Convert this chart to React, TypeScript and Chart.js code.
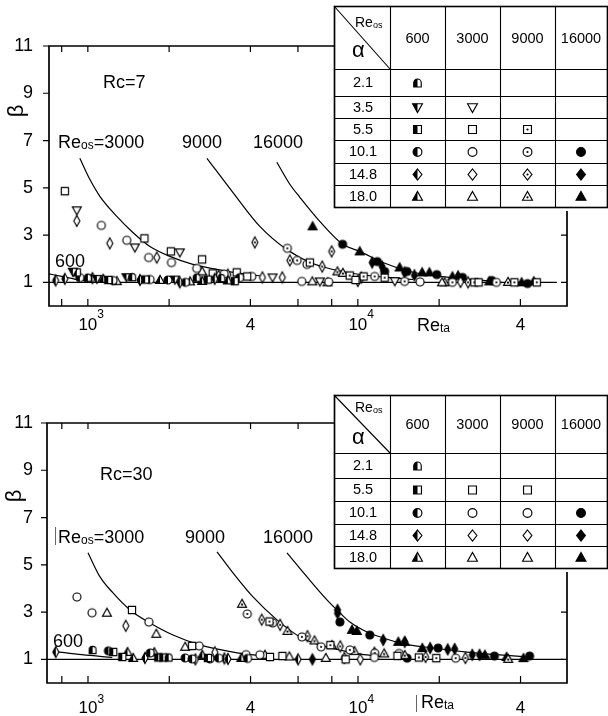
import { useEffect, useRef } from 'react';
import { Chart, registerables } from 'chart.js';

Chart.register(...registerables);

type Pt = [number, number];
type Kind = 'circle' | 'square' | 'diamond' | 'tri' | 'invtri' | 'dee';
type Fill = 'open' | 'half' | 'dot' | 'solid';

// Axis ticks
const xTickValues = [800, 1000, 2000, 4000, 6000, 8000, 10000, 20000, 40000];
const xTopTickValues = [800, 1000, 2000, 4000, 6000];
const xTickLabels: Record<number, string> = { 1000: '10', 4000: '4', 10000: '10', 40000: '4' };
const xTickExponents: [number, string][] = [[1000, '3'], [10000, '4']];
const yTickValues = [1, 3, 5, 7, 9, 11];
const reOsColumns = ['600', '3000', '9000', '16000'];
const rc7Alphas = ['2.1', '3.5', '5.5', '10.1', '14.8', '18.0'];
const rc30Alphas = ['2.1', '5.5', '10.1', '14.8', '18.0'];

// ---------- Rc = 7 : measured (Re_ta, beta) ----------
const rc7_600_a21: Pt[] = [[1000, 1.2], [1460, 1.22], [2530, 1.2], [3120, 1.18]];
const rc7_600_a35: Pt[] = [[880, 1.45], [1080, 1.15], [1390, 1.22], [2100, 1.12]];
const rc7_600_a55: Pt[] = [[910, 1.42], [1190, 1.1], [1630, 1.12], [2780, 1.12], [3500, 1.05]];
const rc7_600_a101: Pt[] = [[934, 1.2], [1240, 1.08], [1700, 1.12], [1980, 1.1], [2300, 1.0], [3650, 1.2]];
const rc7_600_a148: Pt[] = [[760, 1.08], [822, 1.15], [1040, 1.18], [1560, 1.1], [2190, 1.0], [2950, 1.15]];
const rc7_600_a180: Pt[] = [[1140, 1.15], [1280, 1.05], [1850, 1.1], [2390, 1.04], [2650, 1.06], [3300, 1.08]];

const rc7_3000_a35: Pt[] = [[910, 4.05], [1493, 2.48], [2190, 2.27], [4830, 1.21], [7230, 1.04], [13700, 1.05]];
const rc7_3000_a55: Pt[] = [[822, 4.86], [1620, 2.86], [2030, 2.31], [2650, 1.97], [2900, 1.38], [3560, 1.42], [3890, 1.25], [9800, 1.1], [28000, 1.0]];
const rc7_3000_a101: Pt[] = [[1122, 3.41], [1394, 2.78], [1680, 2.05], [2040, 1.84], [2530, 1.59], [3200, 1.35], [4050, 1.25], [6200, 1.04], [7800, 1.02], [17000, 1.02]];
const rc7_3000_a148: Pt[] = [[910, 3.6], [1206, 2.65], [1800, 2.05], [3300, 1.33], [4430, 1.21], [5250, 1.21], [10000, 1.06], [24000, 1.02]];
const rc7_3000_a180: Pt[] = [[2650, 1.46], [3050, 1.32], [6780, 1.04], [7720, 1.0], [20500, 1.0]];

const rc7_9000_a55: Pt[] = [[6640, 1.84], [9330, 1.29], [10500, 1.25], [12570, 1.2], [27000, 1.0], [38000, 1.0], [46000, 1.0]];
const rc7_9000_a101: Pt[] = [[5480, 2.44], [5960, 1.93], [6480, 1.76], [11540, 1.25], [14900, 1.04], [22400, 1.0], [32600, 1.0]];
const rc7_9000_a148: Pt[] = [[4155, 2.69], [5600, 1.93], [7380, 1.67], [8000, 2.31], [10300, 1.2], [25600, 1.0]];
const rc7_9000_a180: Pt[] = [[8400, 1.46], [8800, 1.4], [20950, 1.0], [36000, 1.02]];

const rc7_16000_a101: Pt[] = [[8780, 2.61], [11800, 1.88], [12570, 1.46], [15200, 1.46], [19600, 1.33], [24400, 1.21], [31300, 1.08], [42500, 0.95]];
const rc7_16000_a148: Pt[] = [[11300, 1.84], [12300, 1.67], [14900, 1.42], [16200, 1.3]];
const rc7_16000_a180: Pt[] = [[6800, 3.37], [10160, 2.31], [14280, 1.63], [17300, 1.42], [18400, 1.42], [22400, 1.25], [23500, 1.29], [30700, 1.04], [40400, 1.0], [44800, 1.04]];

// fitted curves, Rc = 7
const rc7_fit600: Pt[] = [[718, 1.36], [800, 1.25], [900, 1.13], [1000, 1.05]];
const rc7_fit3000: Pt[] = [[934, 6.25], [1017, 5.36], [1108, 4.64], [1280, 3.79], [1468, 3.11], [1698, 2.52], [2014, 2.1], [2449, 1.76], [3006, 1.55], [3654, 1.38], [4335, 1.28]];
const rc7_fit9000: Pt[] = [[2761, 6.25], [3443, 4.81], [4335, 3.37], [5457, 2.39], [6808, 1.8], [8870, 1.45], [11070, 1.28], [14000, 1.18], [16000, 1.12]];
const rc7_fit16000: Pt[] = [[5012, 6.08], [5598, 5.15], [6095, 4.6], [7227, 3.58], [8790, 2.61], [10160, 2.31], [12380, 1.84], [15590, 1.46], [20140, 1.25], [26680, 1.12], [33570, 1.04]];
const rc7_unity: Pt[] = [[718, 1], [54600, 1]];

// ---------- Rc = 30 : measured (Re_ta, beta) ----------
const rc30_600_a21: Pt[] = [[1040, 1.4], [1990, 1.08]];
const rc30_600_a55: Pt[] = [[1240, 1.31], [1340, 1.1], [1820, 1.08], [1900, 1.08], [2780, 1.06]];
const rc30_600_a101: Pt[] = [[1190, 1.36], [1700, 1.27], [2290, 1.06], [2430, 1.02], [2830, 1.02], [3050, 1.05], [3900, 1.04]];
const rc30_600_a148: Pt[] = [[760, 1.31], [1626, 1.06], [2500, 1.0], [3200, 1.04], [3300, 1.02], [6000, 1.0]];
const rc30_600_a180: Pt[] = [[1400, 1.31], [1470, 1.06], [1760, 1.3], [2650, 1.19], [3700, 1.06]];

const rc30_3000_a55: Pt[] = [[1455, 3.09], [2430, 1.57], [4720, 1.1], [5250, 1.14], [9000, 1.0], [14000, 1.15]];
const rc30_3000_a101: Pt[] = [[910, 3.64], [1035, 2.97], [1680, 2.58], [2580, 1.57], [3850, 1.2], [4330, 1.19], [11500, 1.08]];
const rc30_3000_a148: Pt[] = [[1380, 2.42], [2950, 1.3], [8900, 1.06], [10200, 1.0]];
const rc30_3000_a180: Pt[] = [[1175, 2.97], [1790, 2.08], [2290, 1.53], [4520, 1.19], [5570, 1.12], [7600, 1.06]];

const rc30_9000_a55: Pt[] = [[4700, 2.6], [7900, 1.6], [16800, 1.08], [19500, 1.05]];
const rc30_9000_a101: Pt[] = [[3890, 2.92], [4830, 2.54], [6200, 1.95], [7300, 1.53], [9330, 1.4], [11540, 1.26], [14200, 1.25], [23000, 1.05]];
const rc30_9000_a148: Pt[] = [[4400, 2.68], [5150, 2.46], [6500, 1.98], [8600, 1.55], [11500, 1.28], [17800, 1.1], [25000, 1.06]];
const rc30_9000_a180: Pt[] = [[3720, 3.35], [5480, 2.2], [6900, 1.8], [8000, 1.6], [9700, 1.35], [12500, 1.25], [14900, 1.18], [36000, 1.02]];

const rc30_16000_a101: Pt[] = [[8570, 2.58], [11060, 2.03], [15200, 1.05], [19800, 1.48], [32000, 1.14], [43200, 1.14]];
const rc30_16000_a148: Pt[] = [[6780, 1.0], [8400, 3.09], [8400, 2.95], [12400, 1.82], [14900, 1.74], [18500, 1.48], [21500, 1.42], [22800, 1.44], [26500, 1.19], [28200, 1.19]];
const rc30_16000_a180: Pt[] = [[9500, 2.25], [9900, 2.2], [14100, 1.74], [14900, 1.74], [17300, 1.48], [29500, 1.19], [35500, 1.1], [41000, 1.05]];

// fitted curves, Rc = 30
const rc30_fit600: Pt[] = [[760, 1.33], [950, 1.2], [1230, 1.08]];
const rc30_fit3000: Pt[] = [[1000, 5.51], [1108, 4.49], [1238, 3.81], [1431, 3.09], [1697, 2.54], [2065, 2.03], [2597, 1.61], [3446, 1.31], [4600, 1.12]];
const rc30_fit9000: Pt[] = [[3006, 5.55], [3443, 4.66], [4085, 3.64], [5012, 2.67], [6095, 1.95], [7228, 1.61], [8570, 1.4], [10250, 1.22], [12380, 1.12]];
const rc30_fit16000: Pt[] = [[5457, 5.51], [6475, 4.49], [7674, 3.52], [8570, 2.97], [9330, 2.58], [10790, 2.16], [12380, 1.91], [14320, 1.69], [18970, 1.48], [25330, 1.31], [33570, 1.19], [43350, 1.1]];
const rc30_unity: Pt[] = [[705, 1], [57500, 1]];

type Sym = [Kind, Fill] | null;

interface Series { data: Pt[]; sym: [Kind, Fill]; }

const rc7Series: Series[] = [
  { data: rc7_600_a21, sym: ['dee', 'half'] },
  { data: rc7_600_a35, sym: ['invtri', 'half'] },
  { data: rc7_600_a55, sym: ['square', 'half'] },
  { data: rc7_600_a101, sym: ['circle', 'half'] },
  { data: rc7_600_a148, sym: ['diamond', 'half'] },
  { data: rc7_600_a180, sym: ['tri', 'half'] },
  { data: rc7_3000_a35, sym: ['invtri', 'open'] },
  { data: rc7_3000_a55, sym: ['square', 'open'] },
  { data: rc7_3000_a101, sym: ['circle', 'open'] },
  { data: rc7_3000_a148, sym: ['diamond', 'open'] },
  { data: rc7_3000_a180, sym: ['tri', 'open'] },
  { data: rc7_9000_a55, sym: ['square', 'dot'] },
  { data: rc7_9000_a101, sym: ['circle', 'dot'] },
  { data: rc7_9000_a148, sym: ['diamond', 'dot'] },
  { data: rc7_9000_a180, sym: ['tri', 'dot'] },
  { data: rc7_16000_a101, sym: ['circle', 'solid'] },
  { data: rc7_16000_a148, sym: ['diamond', 'solid'] },
  { data: rc7_16000_a180, sym: ['tri', 'solid'] },
];

const rc30Series: Series[] = [
  { data: rc30_600_a21, sym: ['dee', 'half'] },
  { data: rc30_600_a55, sym: ['square', 'half'] },
  { data: rc30_600_a101, sym: ['circle', 'half'] },
  { data: rc30_600_a148, sym: ['diamond', 'half'] },
  { data: rc30_600_a180, sym: ['tri', 'half'] },
  { data: rc30_3000_a55, sym: ['square', 'open'] },
  { data: rc30_3000_a101, sym: ['circle', 'open'] },
  { data: rc30_3000_a148, sym: ['diamond', 'open'] },
  { data: rc30_3000_a180, sym: ['tri', 'open'] },
  { data: rc30_9000_a55, sym: ['square', 'dot'] },
  { data: rc30_9000_a101, sym: ['circle', 'dot'] },
  { data: rc30_9000_a148, sym: ['diamond', 'dot'] },
  { data: rc30_9000_a180, sym: ['tri', 'dot'] },
  { data: rc30_16000_a101, sym: ['circle', 'solid'] },
  { data: rc30_16000_a148, sym: ['diamond', 'solid'] },
  { data: rc30_16000_a180, sym: ['tri', 'solid'] },
];

// symbol key tables (rows = alpha, columns = Re_os)
const rc7Key: Sym[][] = [
  [['dee', 'half'], null, null, null],
  [['invtri', 'half'], ['invtri', 'open'], null, null],
  [['square', 'half'], ['square', 'open'], ['square', 'dot'], null],
  [['circle', 'half'], ['circle', 'open'], ['circle', 'dot'], ['circle', 'solid']],
  [['diamond', 'half'], ['diamond', 'open'], ['diamond', 'dot'], ['diamond', 'solid']],
  [['tri', 'half'], ['tri', 'open'], ['tri', 'dot'], ['tri', 'solid']],
];
const rc30Key: Sym[][] = [
  [['dee', 'half'], null, null, null],
  [['square', 'half'], ['square', 'open'], ['square', 'open'], null],
  [['circle', 'half'], ['circle', 'open'], ['circle', 'open'], ['circle', 'solid']],
  [['diamond', 'half'], ['diamond', 'open'], ['diamond', 'open'], ['diamond', 'solid']],
  [['tri', 'half'], ['tri', 'open'], ['tri', 'open'], ['tri', 'solid']],
];

const FONT = '"Liberation Sans", Arial, Helvetica, sans-serif';

function shapePath(g: CanvasRenderingContext2D, kind: Kind, cx: number, cy: number, s: number, wide: boolean) {
  g.beginPath();
  switch (kind) {
    case 'circle':
      g.arc(cx, cy, s, 0, Math.PI * 2);
      break;
    case 'square':
      g.rect(cx - s * 0.9, cy - s * 0.9, s * 1.8, s * 1.8);
      break;
    case 'diamond': {
      const hw = wide ? s * 1.0 : s * 0.75;
      const hh = wide ? s * 1.25 : s * 1.38;
      g.moveTo(cx, cy - hh);
      g.lineTo(cx + hw, cy);
      g.lineTo(cx, cy + hh);
      g.lineTo(cx - hw, cy);
      g.closePath();
      break;
    }
    case 'tri':
      g.moveTo(cx, cy - s * 1.15);
      g.lineTo(cx + s * 1.12, cy + s * 0.85);
      g.lineTo(cx - s * 1.12, cy + s * 0.85);
      g.closePath();
      break;
    case 'invtri':
      g.moveTo(cx, cy + s * 1.15);
      g.lineTo(cx + s * 1.12, cy - s * 0.85);
      g.lineTo(cx - s * 1.12, cy - s * 0.85);
      g.closePath();
      break;
    case 'dee':
      g.moveTo(cx - s * 0.85, cy + s * 0.9);
      g.lineTo(cx - s * 0.85, cy - s * 0.05);
      g.arc(cx, cy - s * 0.05, s * 0.85, Math.PI, 0);
      g.lineTo(cx + s * 0.85, cy + s * 0.9);
      g.closePath();
      break;
  }
}

function drawSymbol(g: CanvasRenderingContext2D, kind: Kind, fill: Fill, cx: number, cy: number, s: number, wide = false) {
  g.save();
  shapePath(g, kind, cx, cy, s, wide);
  g.fillStyle = fill === 'solid' ? '#000' : '#fff';
  g.fill();
  if (fill === 'half') {
    g.save();
    g.beginPath();
    g.rect(cx - s * 2, cy - s * 2, s * 2, s * 4);
    g.clip();
    shapePath(g, kind, cx, cy, s, wide);
    g.fillStyle = '#000';
    g.fill();
    g.restore();
  }
  shapePath(g, kind, cx, cy, s, wide);
  g.strokeStyle = '#000';
  g.lineWidth = 1.15;
  g.stroke();
  if (fill === 'dot') {
    const dy = kind === 'tri' ? s * 0.18 : kind === 'invtri' ? -s * 0.18 : 0;
    g.beginPath();
    g.arc(cx, cy + dy, 1.1, 0, Math.PI * 2);
    g.fillStyle = '#000';
    g.fill();
  }
  g.restore();
}

function symbolCanvas(kind: Kind, fill: Fill, s: number): HTMLCanvasElement {
  const size = Math.ceil(s * 3.2) + 5;
  const c = document.createElement('canvas');
  c.width = size;
  c.height = size;
  const g = c.getContext('2d')!;
  drawSymbol(g, kind, fill, size / 2, size / 2, s);
  return c;
}

interface KeyTable {
  cols: number[];
  rows: number[];
  alphas: string[];
  cells: Sym[][];
  reAt: Pt;
  alphaAt: Pt;
}

interface Panel {
  series: Series[];
  curves: Pt[][];
  xMin: number;
  padLeft: number;
  padTop: number;
  xAxisHeight: number;
  xLabelPad: number;
  expBaseline: number;
  yLabelPad: number;
  rc: string;
  rcAt: Pt;
  reOsAt: Pt;
  n9000At: Pt;
  n16000At: Pt;
  n600At: Pt;
  retaAt: Pt;
  betaAt: Pt;
  bars: [number, number, number][];
  table: KeyTable;
  rightTicks: number[];
}

const rc7Panel: Panel = {
  series: rc7Series,
  curves: [rc7_fit600, rc7_fit3000, rc7_fit9000, rc7_fit16000, rc7_unity],
  xMin: 718,
  padLeft: 9,
  padTop: 46,
  xAxisHeight: 52,
  xLabelPad: 1,
  expBaseline: 12,
  yLabelPad: 8,
  rc: 'Rc=7',
  rcAt: [103, 88],
  reOsAt: [58, 148],
  n9000At: [182, 148],
  n16000At: [253, 148],
  n600At: [55, 267],
  retaAt: [417, 331],
  betaAt: [17, 111],
  bars: [],
  table: {
    cols: [334, 390, 445, 500, 555, 607],
    rows: [6, 69, 96, 118, 140, 163, 185, 207],
    alphas: rc7Alphas,
    cells: rc7Key,
    reAt: [355, 27],
    alphaAt: [352, 51],
  },
  rightTicks: [1, 3],
};

const rc30Panel: Panel = {
  series: rc30Series,
  curves: [rc30_fit600, rc30_fit3000, rc30_fit9000, rc30_fit16000, rc30_unity],
  xMin: 705,
  padLeft: 7,
  padTop: 65,
  xAxisHeight: 33,
  xLabelPad: 7,
  expBaseline: 20,
  yLabelPad: 6,
  rc: 'Rc=30',
  rcAt: [100, 122],
  reOsAt: [58, 185],
  n9000At: [185, 185],
  n16000At: [263, 185],
  n600At: [53, 289],
  retaAt: [421, 350],
  betaAt: [15, 138],
  bars: [[55.5, 169, 187], [416.5, 337, 354]],
  table: {
    cols: [334, 390, 445, 500, 555, 607],
    rows: [37, 95, 120, 143, 166, 188, 210],
    alphas: rc30Alphas,
    cells: rc30Key,
    reAt: [355, 54],
    alphaAt: [352, 80],
  },
  rightTicks: [1, 3],
};

function drawText(g: CanvasRenderingContext2D, x: number, y: number, main: string, sub = '', tail = '', size = 18) {
  g.fillStyle = '#000';
  g.textAlign = 'left';
  g.textBaseline = 'alphabetic';
  g.font = `${size}px ${FONT}`;
  g.fillText(main, x, y);
  let cx = x + g.measureText(main).width;
  if (sub) {
    g.font = `${Math.round(size * 0.66)}px ${FONT}`;
    g.fillText(sub, cx, y + 1);
    cx += g.measureText(sub).width;
  }
  if (tail) {
    g.font = `${size}px ${FONT}`;
    g.fillText(tail, cx, y);
  }
}

function drawKey(g: CanvasRenderingContext2D, t: KeyTable) {
  const x0 = t.cols[0];
  const x1 = t.cols[t.cols.length - 1];
  const y0 = t.rows[0];
  const y1 = t.rows[t.rows.length - 1];
  g.save();
  g.fillStyle = '#fff';
  g.fillRect(x0, y0, x1 - x0, y1 - y0);
  g.strokeStyle = '#000';
  g.lineWidth = 1.1;
  g.beginPath();
  for (const x of t.cols) {
    g.moveTo(x + 0.5, y0);
    g.lineTo(x + 0.5, y1);
  }
  for (const y of t.rows) {
    g.moveTo(x0, y + 0.5);
    g.lineTo(x1, y + 0.5);
  }
  g.moveTo(x0, y0);
  g.lineTo(t.cols[1], t.rows[1]);
  g.stroke();
  g.lineWidth = 1.6;
  g.strokeRect(x0 + 0.5, y0 + 0.5, x1 - x0, y1 - y0);

  // header
  drawText(g, t.reAt[0], t.reAt[1], 'Re', 'os', '', 14);
  g.font = `22px ${FONT}`;
  g.textAlign = 'left';
  g.textBaseline = 'middle';
  g.fillText('α', t.alphaAt[0], t.alphaAt[1]);
  g.font = `14.5px ${FONT}`;
  g.textAlign = 'center';
  const headMid = (t.rows[0] + t.rows[1]) / 2 + 1;
  reOsColumns.forEach((label, i) => {
    g.fillText(label, (t.cols[i + 1] + t.cols[i + 2]) / 2, headMid);
  });
  // body
  t.alphas.forEach((a, r) => {
    const cy = (t.rows[r + 1] + t.rows[r + 2]) / 2 + 0.5;
    g.font = `14.5px ${FONT}`;
    g.textAlign = 'center';
    g.textBaseline = 'middle';
    g.fillStyle = '#000';
    g.fillText(a, (t.cols[0] + t.cols[1]) / 2 + 1, cy);
    t.cells[r].forEach((sym, c) => {
      if (!sym) return;
      drawSymbol(g, sym[0], sym[1], (t.cols[c + 1] + t.cols[c + 2]) / 2, cy, 4.4, true);
    });
  });
  g.restore();
}

function decoPlugin(p: Panel) {
  return {
    id: 'panelDeco',
    afterDraw(chart: Chart) {
      const g = chart.ctx;
      const a = chart.chartArea;
      const xs = chart.scales.x;
      const ys = chart.scales.y;
      const t = p.table;
      const tBottom = t.rows[t.rows.length - 1];
      g.save();
      // frame
      g.strokeStyle = '#000';
      g.lineWidth = 1.7;
      g.beginPath();
      g.moveTo(t.cols[0], a.top);
      g.lineTo(a.left, a.top);
      g.lineTo(a.left, a.bottom);
      g.lineTo(a.right, a.bottom);
      g.lineTo(a.right, tBottom + 4);
      g.stroke();
      // tick marks
      g.lineWidth = 1.2;
      g.beginPath();
      for (const v of xTickValues) {
        const x = xs.getPixelForValue(v);
        g.moveTo(x, a.bottom);
        g.lineTo(x, a.bottom - 7);
      }
      for (const v of xTopTickValues) {
        const x = xs.getPixelForValue(v);
        g.moveTo(x, a.top);
        g.lineTo(x, a.top + 6);
      }
      for (const v of yTickValues) {
        const y = ys.getPixelForValue(v);
        g.moveTo(a.left - 6, y);
        g.lineTo(a.left, y);
      }
      for (const v of p.rightTicks) {
        const y = ys.getPixelForValue(v);
        g.moveTo(a.right - 6, y);
        g.lineTo(a.right, y);
      }
      g.stroke();
      // stray rule marks
      g.strokeStyle = '#666';
      g.lineWidth = 1;
      g.beginPath();
      for (const [x, yA, yB] of p.bars) {
        g.moveTo(x, yA);
        g.lineTo(x, yB);
      }
      g.stroke();

      // decade exponents on the Re_ta labels
      g.fillStyle = '#000';
      g.font = `12px ${FONT}`;
      g.textAlign = 'left';
      g.textBaseline = 'alphabetic';
      for (const [v, e] of xTickExponents) {
        g.fillText(e, xs.getPixelForValue(v) + 9.5, a.bottom + p.expBaseline);
      }

      // annotations
      drawText(g, p.rcAt[0], p.rcAt[1], p.rc);
      drawText(g, p.reOsAt[0], p.reOsAt[1], 'Re', 'os', '=3000');
      drawText(g, p.n9000At[0], p.n9000At[1], '9000');
      drawText(g, p.n16000At[0], p.n16000At[1], '16000');
      drawText(g, p.n600At[0], p.n600At[1], '600');
      drawText(g, p.retaAt[0], p.retaAt[1], 'Re', 'ta', '', 18);

      // beta axis title
      g.save();
      g.translate(p.betaAt[0], p.betaAt[1]);
      g.rotate(-Math.PI / 2);
      g.font = `22px ${FONT}`;
      g.textAlign = 'center';
      g.textBaseline = 'middle';
      g.fillStyle = '#000';
      g.fillText('β', 0, 0);
      g.restore();

      drawKey(g, t);
      g.restore();
    },
  };
}

function buildPanel(canvas: HTMLCanvasElement, p: Panel): Chart {
  const datasets: any[] = [];
  p.series.forEach((s) => {
    datasets.push({
      type: 'scatter',
      data: s.data.map(([x, y]) => ({ x, y })),
      pointStyle: symbolCanvas(s.sym[0], s.sym[1], 4),
      pointRadius: 4,
      pointHoverRadius: 4,
      showLine: false,
      order: 1,
    });
  });
  p.curves.forEach((c) => {
    datasets.push({
      type: 'scatter',
      data: c.map(([x, y]) => ({ x, y })),
      showLine: true,
      borderColor: '#000',
      borderWidth: 1.2,
      pointRadius: 0,
      pointHoverRadius: 0,
      cubicInterpolationMode: 'monotone',
      fill: false,
      order: 2,
    });
  });
  const xMax = Math.pow(10, Math.log10(p.xMin) + (567 - (p.padLeft + 40)) / 270);
  return new Chart(canvas, {
    type: 'scatter',
    data: { datasets },
    options: {
      responsive: false,
      animation: false,
      events: [],
      layout: { padding: { left: p.padLeft, top: p.padTop, right: 41, bottom: 0 } },
      plugins: { legend: { display: false }, tooltip: { enabled: false } },
      scales: {
        x: {
          type: 'logarithmic',
          min: p.xMin,
          max: xMax,
          grid: { display: false },
          border: { display: false },
          afterBuildTicks: (s: any) => {
            s.ticks = xTickValues.map((v) => ({ value: v }));
          },
          afterFit: (s: any) => {
            s.height = p.xAxisHeight;
          },
          ticks: {
            autoSkip: false,
            maxRotation: 0,
            minRotation: 0,
            padding: p.xLabelPad,
            color: '#000',
            font: { family: FONT, size: 17 },
            callback: (v: any) => xTickLabels[Number(v)] ?? '',
          },
        },
        y: {
          type: 'linear',
          min: 0,
          max: 11,
          grid: { display: false },
          border: { display: false },
          afterBuildTicks: (s: any) => {
            s.ticks = yTickValues.map((v) => ({ value: v }));
          },
          afterFit: (s: any) => {
            s.width = 40;
          },
          ticks: {
            padding: p.yLabelPad,
            color: '#000',
            font: { family: FONT, size: 18 },
          },
        },
      },
    } as any,
    plugins: [decoPlugin(p)],
  });
}

export default function App() {
  const topRef = useRef<HTMLCanvasElement>(null);
  const botRef = useRef<HTMLCanvasElement>(null);

  useEffect(() => {
    const charts = [buildPanel(topRef.current!, rc7Panel), buildPanel(botRef.current!, rc30Panel)];
    return () => charts.forEach((c) => c.destroy());
  }, []);

  return (
    <div style={{ position: 'absolute', left: 0, top: 0, width: 608, height: 716, background: '#fff', overflow: 'hidden' }}>
      <canvas ref={topRef} width={608} height={358} style={{ position: 'absolute', left: 0, top: 0 }} />
      <canvas ref={botRef} width={608} height={358} style={{ position: 'absolute', left: 0, top: 358 }} />
    </div>
  );
}
